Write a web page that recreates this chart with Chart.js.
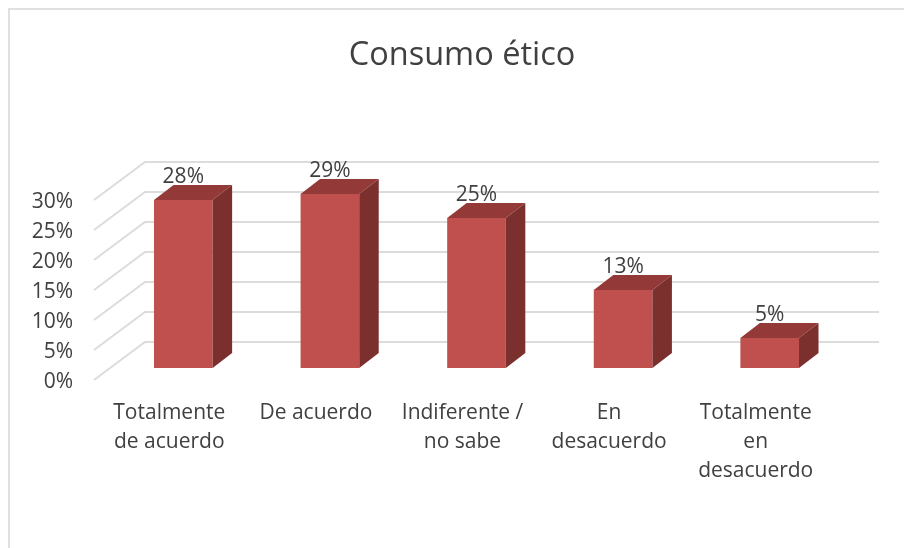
<!DOCTYPE html>
<html>
<head>
<meta charset="utf-8">
<script src="https://cdn.jsdelivr.net/npm/chart.js@4"></script>
<style>
  html, body { margin: 0; padding: 0; background: #fff; overflow: hidden; }
  #frame { position: absolute; left: 8px; top: 8px; width: 900px; height: 544px; border: 2px solid #e0e0e0; }
  #frame canvas { position: absolute; left: 0; top: 0; }
</style>
</head>
<body>
<div id="frame"><canvas id="chart" width="904" height="548"></canvas></div>
<script>
const titleText = 'Consumo ético';
const categories = [
  ['Totalmente', 'de acuerdo'],
  'De acuerdo',
  ['Indiferente /', 'no sabe'],
  ['En', 'desacuerdo'],
  ['Totalmente', 'en', 'desacuerdo']
];
const values = [28, 29, 25, 13, 5];

const fontName = '"Open Sans", sans-serif';
const textColor = '#404040';
const frontColor = '#c0504d';
const topColor = '#933a38';
const sideColor = '#7b302e';
const gridColor = '#dcdcdc';

// fake 3d: floor/wall grid and bar faces, all hung off the real scales
const box3d = {
  id: 'box3d',
  beforeDatasetsDraw(chart) {
    const {ctx, scales: {y}, chartArea} = chart;
    ctx.save();
    ctx.strokeStyle = gridColor;
    ctx.lineWidth = 2;
    y.ticks.forEach(t => {
      const p = y.getPixelForValue(t.value);
      ctx.beginPath();
      ctx.moveTo(chartArea.left - 16, p + 12);
      ctx.lineTo(chartArea.left + 35, p - 26);
      ctx.lineTo(chartArea.right + 36, p - 26);
      ctx.stroke();
    });
    ctx.restore();
  },
  afterDatasetsDraw(chart) {
    const {ctx} = chart;
    const dx = 19.5, dy = -15;
    ctx.save();
    chart.getDatasetMeta(0).data.forEach((bar, i) => {
      const l = bar.x - bar.width / 2, r = bar.x + bar.width / 2;
      ctx.fillStyle = topColor;
      ctx.beginPath();
      ctx.moveTo(l, bar.y);
      ctx.lineTo(l + dx, bar.y + dy);
      ctx.lineTo(r + dx, bar.y + dy);
      ctx.lineTo(r, bar.y);
      ctx.closePath();
      ctx.fill();
      ctx.fillStyle = sideColor;
      ctx.beginPath();
      ctx.moveTo(r, bar.y);
      ctx.lineTo(r + dx, bar.y + dy);
      ctx.lineTo(r + dx, bar.base + dy);
      ctx.lineTo(r, bar.base);
      ctx.closePath();
      ctx.fill();
      ctx.fillStyle = textColor;
      ctx.font = '21px ' + fontName;
      ctx.textAlign = 'center';
      ctx.textBaseline = 'middle';
      ctx.fillText(values[i] + '%', bar.x, bar.y - 23);
    });
    ctx.restore();
  }
};

new Chart(document.getElementById('chart'), {
  type: 'bar',
  data: {
    labels: categories,
    datasets: [{
      data: values,
      backgroundColor: frontColor,
      barPercentage: 0.4,
      categoryPercentage: 1
    }]
  },
  plugins: [box3d],
  options: {
    responsive: false,
    animation: false,
    plugins: {
      legend: {display: false},
      tooltip: {enabled: false},
      title: {
        display: true,
        text: titleText,
        color: textColor,
        font: {family: fontName, size: 32.5, weight: 'normal', lineHeight: 1.2},
        padding: {top: 26, bottom: 113}
      }
    },
    scales: {
      x: {
        grid: {display: false},
        border: {display: false},
        afterFit(scale) { scale.height = 190; },
        ticks: {
          color: textColor,
          font: {family: fontName, size: 21, lineHeight: 1.4},
          labelOffset: -14,
          padding: 22,
          maxRotation: 0,
          autoSkip: false
        }
      },
      y: {
        min: 0,
        max: 30,
        grid: {display: false},
        border: {display: false},
        afterFit(scale) { scale.width = 100; },
        ticks: {
          stepSize: 5,
          color: textColor,
          font: {family: fontName, size: 21},
          labelOffset: 14,
          padding: 29,
          callback: v => v + '%'
        }
      },
      // empty axis, only reserves the margin on the right (padding would move the title)
      spacer: {
        position: 'right',
        min: 0,
        max: 30,
        grid: {display: false},
        border: {display: false},
        ticks: {display: false},
        afterFit(scale) { scale.width = 71; }
      }
    }
  }
});
</script>
</body>
</html>
